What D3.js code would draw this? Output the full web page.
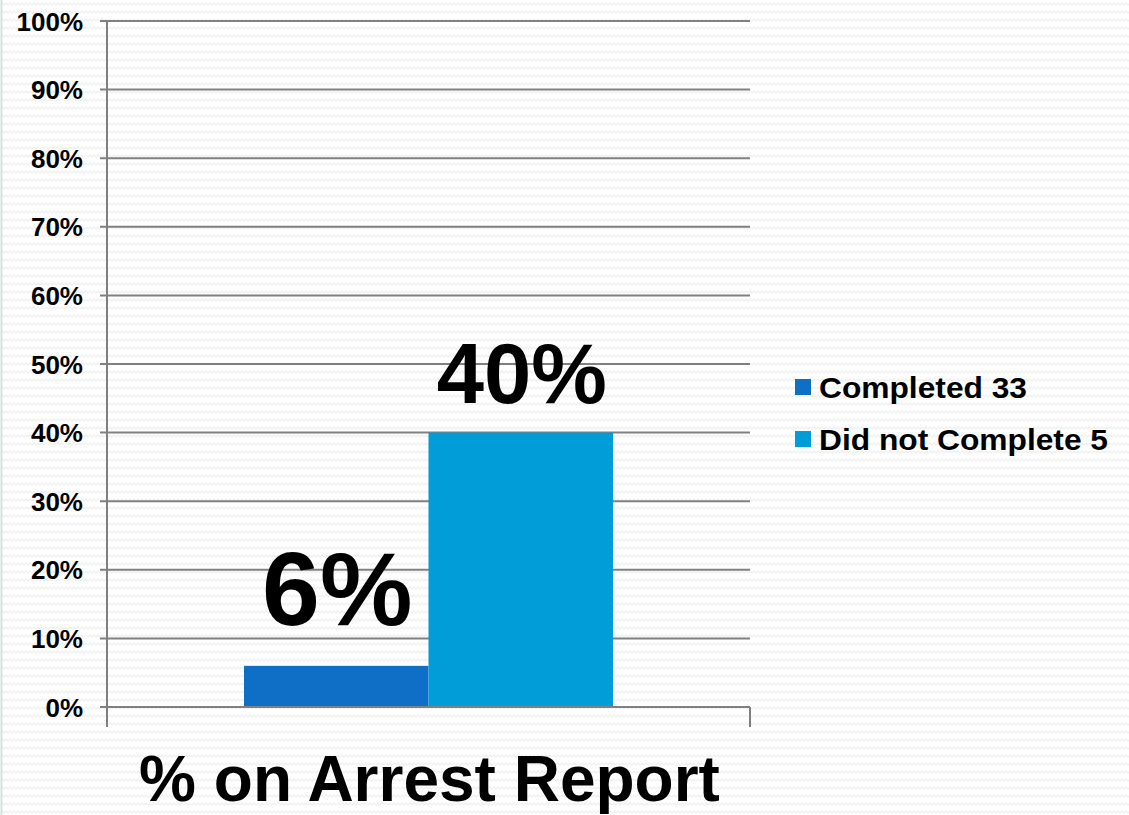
<!DOCTYPE html>
<html><head><meta charset="utf-8">
<script src="https://cdn.jsdelivr.net/npm/d3@7"></script>
<style>body{margin:0;padding:0;background:#fff;overflow:hidden}svg{display:block}</style>
</head><body>
<script>
const categories = ["% on Arrest Report"];
const seriesNames = ["Completed 33", "Did not Complete 5"];
const seriesValues = [[0.06], [0.40]];
const valueLabels = ["6%", "40%"];
const yTicks = [0,0.1,0.2,0.3,0.4,0.5,0.6,0.7,0.8,0.9,1.0];

(function(){
const colors = ["#0f6fc6", "#009dd9"];
const labelStyle = [{size:104, gap:41}, {size:85, gap:30}];
const FONT = "Liberation Sans, Arial, sans-serif";
const W = 1129, H = 815;
const svg = d3.select("body").append("svg").attr("width", W).attr("height", H);
const defs = svg.append("defs");
const pat = defs.append("pattern").attr("id","zz").attr("patternUnits","userSpaceOnUse").attr("width",8).attr("height",8);
pat.append("path").attr("d","M0,5 L2,3 L4,5 L6,3 L8,5").attr("fill","none").attr("stroke","#eeeeee").attr("stroke-width",1.2);
svg.append("rect").attr("width",W).attr("height",H).attr("fill","#fff");
svg.append("rect").attr("width",W).attr("height",H).attr("fill","url(#zz)");
svg.append("line").attr("x1",1.5).attr("x2",1.5).attr("y1",0).attr("y2",H).attr("stroke","#d3e3df").attr("stroke-width",2);

const pl = 107, pr = 750, pt = 21, pb = 707;
const y = d3.scaleLinear().domain([0,1]).range([pb, pt]);
const x0 = d3.scaleBand().domain(categories).range([pl, pr]).paddingInner(0).paddingOuter(0.3713);
const x1 = d3.scaleBand().domain(seriesNames).range([0, x0.bandwidth()]);

// gridlines
svg.append("g").selectAll("line").data(yTicks).join("line")
  .attr("x1", pl-7).attr("x2", pr).attr("y1", d=>y(d)).attr("y2", d=>y(d))
  .attr("stroke","#808080").attr("stroke-width",2);

// bars
const g = svg.append("g");
categories.forEach((c, ci) => {
  seriesNames.forEach((s, si) => {
    const v = seriesValues[si][ci];
    g.append("rect").attr("x", x0(c) + x1(s)).attr("width", x1.bandwidth())
      .attr("y", y(v)).attr("height", y(0) - y(v)).attr("fill", colors[si]);
  });
});
categories.forEach((c, ci) => {
  seriesNames.forEach((s, si) => {
    const v = seriesValues[si][ci];
    g.append("text").attr("x", x0(c) + x1(s) + x1.bandwidth()/2 + 1).attr("y", y(v) - labelStyle[si].gap)
      .attr("text-anchor","middle").attr("font-family",FONT)
      .attr("font-weight","bold").attr("font-size", labelStyle[si].size).attr("fill","#000").text(valueLabels[si]);
  });
});

// axes lines
svg.append("line").attr("x1",pl).attr("x2",pl).attr("y1",pt).attr("y2",pb+20).attr("stroke","#808080").attr("stroke-width",2);
svg.append("line").attr("x1",pl).attr("x2",pr).attr("y1",pb).attr("y2",pb).attr("stroke","#808080").attr("stroke-width",2);
svg.append("line").attr("x1",pr).attr("x2",pr).attr("y1",pb).attr("y2",pb+20).attr("stroke","#808080").attr("stroke-width",2);

// y tick labels
svg.append("g").selectAll("text").data(yTicks).join("text")
  .attr("x", 83).attr("y", d=>y(d)+9.5).attr("text-anchor","end")
  .attr("font-family",FONT).attr("font-weight","bold").attr("font-size",26)
  .attr("fill","#000").text(d3.format(".0%"));

// category label
svg.append("g").selectAll("text").data(categories).join("text")
  .attr("x", d=>x0(d)+x0.bandwidth()/2+1).attr("y", 801).attr("text-anchor","middle")
  .attr("font-family",FONT).attr("font-weight","bold").attr("font-size",64)
  .attr("fill","#000").text(d=>d);

// legend
const lg = svg.append("g").selectAll("g").data(seriesNames).join("g")
  .attr("transform",(d,i)=>`translate(795,${379 + i*52})`);
lg.append("rect").attr("width",16).attr("height",16).attr("fill",(d,i)=>colors[i]);
lg.append("text").attr("x",24).attr("y",19).attr("font-family",FONT)
  .attr("font-weight","bold").attr("font-size",30).attr("fill","#000")
  .attr("textLength",(d,i)=>[208,289][i]).attr("lengthAdjust","spacingAndGlyphs").text(d=>d);
})();
</script>
</body></html>
